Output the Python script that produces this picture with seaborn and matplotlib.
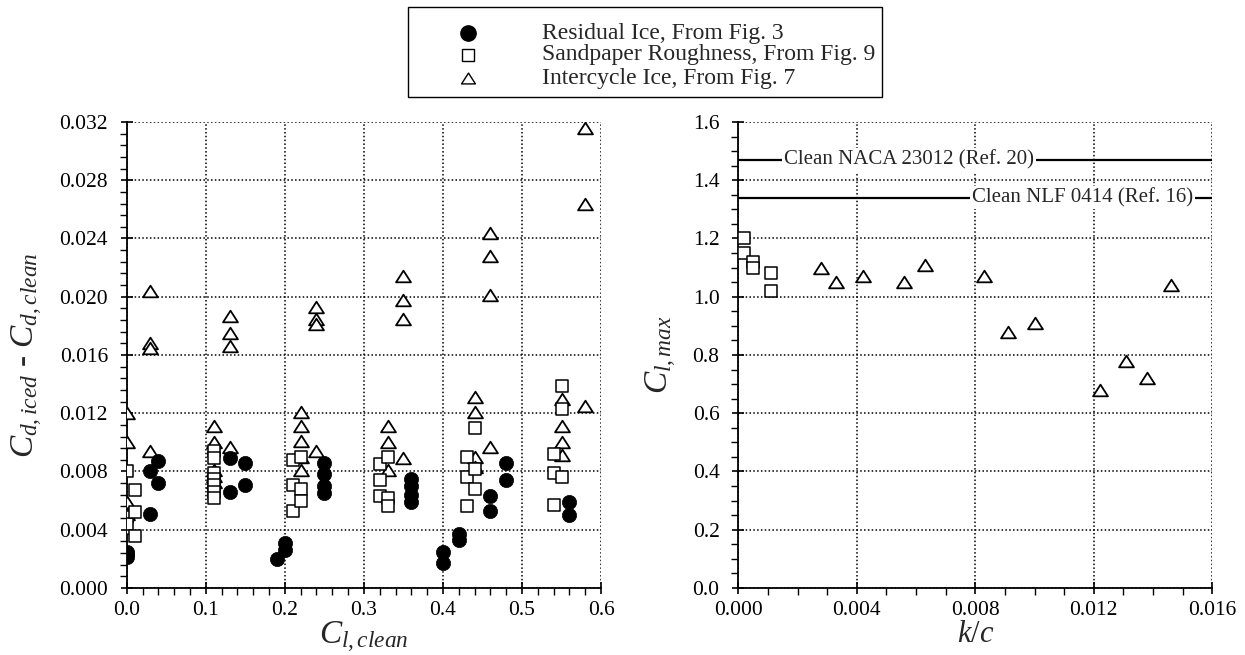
import matplotlib
matplotlib.use("Agg")
import matplotlib.pyplot as plt
from matplotlib.path import Path
from matplotlib.patches import Rectangle
from matplotlib.ticker import MultipleLocator, FormatStrFormatter
import seaborn as sns
import pandas as pd

# ---- drag increment vs clean lift coefficient ----
residual_cl = [0, 0, 0, 0.03, 0.03, 0.04, 0.04, 0.13, 0.13, 0.15, 0.15, 0.19, 0.20, 0.20,
               0.25, 0.25, 0.25, 0.25, 0.36, 0.36, 0.36, 0.36, 0.40, 0.40, 0.42, 0.42,
               0.46, 0.46, 0.48, 0.48, 0.56, 0.56]
residual_dcd = [0.0025, 0.0023, 0.0021, 0.0080, 0.0051, 0.0087, 0.0072, 0.0089, 0.0066,
                0.0086, 0.0071, 0.0020, 0.0031, 0.0026, 0.0086, 0.0078, 0.0070, 0.0065,
                0.0075, 0.0070, 0.0064, 0.0059, 0.0025, 0.0017, 0.0037, 0.0033, 0.0063,
                0.0053, 0.0086, 0.0074, 0.0059, 0.0050]

sand_cl = [0, 0, 0, 0.01, 0.01, 0.01,
           0.11, 0.11, 0.11, 0.11, 0.11, 0.11, 0.11,
           0.21, 0.21, 0.21, 0.22, 0.22, 0.22,
           0.32, 0.32, 0.32, 0.33, 0.33, 0.33,
           0.43, 0.43, 0.43, 0.44, 0.44, 0.44,
           0.54, 0.54, 0.54, 0.55, 0.55, 0.55]
sand_dcd = [0.0080, 0.0049, 0.0044, 0.0067, 0.0052, 0.0036,
            0.0094, 0.0089, 0.0079, 0.0075, 0.0071, 0.0066, 0.0062,
            0.0088, 0.0071, 0.0053, 0.0090, 0.0068, 0.0060,
            0.0085, 0.0074, 0.0063, 0.0090, 0.0062, 0.0056,
            0.0090, 0.0076, 0.0056, 0.0110, 0.0082, 0.0068,
            0.0092, 0.0079, 0.0057, 0.0139, 0.0123, 0.0076]

inter_cl = [0, 0, 0, 0, 0,
            0.03, 0.03, 0.03, 0.03,
            0.11, 0.11, 0.11, 0.11, 0.11,
            0.13, 0.13, 0.13, 0.13,
            0.22, 0.22, 0.22, 0.22, 0.22,
            0.24, 0.24, 0.24, 0.24,
            0.33, 0.33, 0.33,
            0.35, 0.35, 0.35, 0.35,
            0.44, 0.44, 0.44, 0.44,
            0.46, 0.46, 0.46, 0.46,
            0.55, 0.55, 0.55, 0.55,
            0.58, 0.58, 0.58]
inter_dcd = [0.0120, 0.0100, 0.0059, 0.0051, 0.0041,
             0.0204, 0.0168, 0.0165, 0.0094,
             0.0111, 0.0100, 0.0081, 0.0077, 0.0073,
             0.0187, 0.0175, 0.0166, 0.0097,
             0.0121, 0.0111, 0.0101, 0.0090, 0.0081,
             0.0193, 0.0185, 0.0181, 0.0094,
             0.0111, 0.0100, 0.0081,
             0.0214, 0.0198, 0.0185, 0.0089,
             0.0131, 0.0121, 0.0090, 0.0083,
             0.0244, 0.0228, 0.0201, 0.0097,
             0.0130, 0.0111, 0.0100, 0.0091,
             0.0316, 0.0264, 0.0125]

# ---- maximum lift vs roughness height ----
sand_kc = [0.0002, 0.0002, 0.0005, 0.0005, 0.0011, 0.0011]
sand_clmax = [1.20, 1.15, 1.12, 1.10, 1.08, 1.02]
inter_kc = [0.0028, 0.0033, 0.0042, 0.0056, 0.0063, 0.0083, 0.0091, 0.0100,
            0.0122, 0.0131, 0.0138, 0.0146]
inter_clmax = [1.10, 1.05, 1.07, 1.05, 1.11, 1.07, 0.88, 0.91, 0.68, 0.78, 0.72, 1.04]

clean_naca = 1.47
clean_nlf = 1.34

legend_labels = ["Residual Ice, From Fig. 3",
                 "Sandpaper Roughness, From Fig. 9",
                 "Intercycle Ice, From Fig. 7"]

sns.set_theme(style="white")
plt.rcParams["font.family"] = ["Liberation Serif", "DejaVu Serif"]
plt.rcParams["mathtext.fontset"] = "custom"
plt.rcParams["mathtext.rm"] = "Liberation Serif"
plt.rcParams["mathtext.it"] = "Liberation Serif:italic"
plt.rcParams["mathtext.bf"] = "Liberation Serif:bold"

# slightly flattened open triangle
tri = Path([(-1, -0.78), (1, -0.78), (0, 0.78), (-1, -0.78)], closed=True)

fig = plt.figure(figsize=(12.45, 6.55), dpi=100)
ax1 = fig.add_axes([0.1018, 0.1023, 0.381, 0.7115])
ax2 = fig.add_axes([0.5930, 0.1023, 0.3807, 0.7115])

df_res = pd.DataFrame({"x": residual_cl, "y": residual_dcd})
df_sand = pd.DataFrame({"x": sand_cl, "y": sand_dcd})
df_int = pd.DataFrame({"x": inter_cl, "y": inter_dcd})

sns.scatterplot(data=df_int, x="x", y="y", ax=ax1, marker=tri, s=115,
                facecolor="white", edgecolor="black", linewidth=1.3, zorder=3)
sns.scatterplot(data=df_sand, x="x", y="y", ax=ax1, marker="s", s=72,
                facecolor="white", edgecolor="black", linewidth=1.1, zorder=4)
sns.scatterplot(data=df_res, x="x", y="y", ax=ax1, marker="o", s=105,
                color="black", edgecolor="black", linewidth=0.5, zorder=5)

df_sand2 = pd.DataFrame({"x": sand_kc, "y": sand_clmax})
df_int2 = pd.DataFrame({"x": inter_kc, "y": inter_clmax})
sns.scatterplot(data=df_sand2, x="x", y="y", ax=ax2, marker="s", s=72,
                facecolor="white", edgecolor="black", linewidth=1.1, zorder=4)
sns.scatterplot(data=df_int2, x="x", y="y", ax=ax2, marker=tri, s=115,
                facecolor="white", edgecolor="black", linewidth=1.3, zorder=3)

# clean-airfoil reference lines with labels cut into them
ax2.axhline(clean_naca, color="black", lw=1.6, zorder=2)
ax2.axhline(clean_nlf, color="black", lw=1.6, zorder=2)
ax2.text(0.00576, clean_naca, "Clean NACA 23012 (Ref. 20)", fontsize=15,
         ha="center", va="center", zorder=3,
         bbox=dict(facecolor="white", edgecolor="none", pad=1.5))
ax2.text(0.01162, clean_nlf, "Clean NLF 0414 (Ref. 16)", fontsize=15,
         ha="center", va="center", zorder=3,
         bbox=dict(facecolor="white", edgecolor="none", pad=1.5))

ax1.set_xlim(0, 0.6)
ax1.set_ylim(0, 0.032)
ax1.xaxis.set_major_locator(MultipleLocator(0.1))
ax1.xaxis.set_minor_locator(MultipleLocator(0.02))
ax1.yaxis.set_major_locator(MultipleLocator(0.004))
ax1.yaxis.set_minor_locator(MultipleLocator(0.0008))
ax1.xaxis.set_major_formatter(FormatStrFormatter("%.1f"))
ax1.yaxis.set_major_formatter(FormatStrFormatter("%.3f"))

ax2.set_xlim(0, 0.016)
ax2.set_ylim(0, 1.6)
ax2.xaxis.set_major_locator(MultipleLocator(0.004))
ax2.xaxis.set_minor_locator(MultipleLocator(0.001))
ax2.yaxis.set_major_locator(MultipleLocator(0.2))
ax2.yaxis.set_minor_locator(MultipleLocator(0.05))
ax2.xaxis.set_major_formatter(FormatStrFormatter("%.3f"))
ax2.yaxis.set_major_formatter(FormatStrFormatter("%.1f"))

for ax in (ax1, ax2):
    for side in ("top", "right"):
        ax.spines[side].set_visible(False)
    for side in ("left", "bottom"):
        ax.spines[side].set_color("black")
        ax.spines[side].set_linewidth(1.3)
    ax.grid(True, which="major", color="black", linestyle=(0, (1, 1.5)), linewidth=1.1)
    ax.set_axisbelow(True)
    ax.tick_params(which="major", direction="inout", length=9, width=1.2,
                   colors="black", labelsize=15.5, bottom=True, left=True)
    ax.tick_params(axis="y", which="major", pad=9)
    ax.tick_params(axis="x", which="major", pad=5)
    ax.tick_params(which="minor", direction="out", length=5, width=1.0,
                   colors="black", bottom=True, left=True)

ax1.set_xlabel(r"$C_{l,clean}$", fontsize=24, labelpad=0)
ax1.set_ylabel(r"$C_{d,iced}$ - $C_{d,clean}$", fontsize=24, labelpad=10)
ax2.set_xlabel(r"$k/c$", fontsize=22, labelpad=0)
ax2.set_ylabel(r"$C_{l,max}$", fontsize=24, labelpad=10)

# boxed key above the panels
axl = fig.add_axes([408 / 1245, 1 - 97 / 655, 474 / 1245, 90 / 655])
axl.set_xlim(0, 1)
axl.set_ylim(0, 1)
axl.axis("off")
axl.add_patch(Rectangle((0, 0), 1, 1, transform=axl.transAxes, fill=False,
                        edgecolor="black", linewidth=1.0, clip_on=False))
key_y = [0.711, 0.467, 0.211]
key_style = [
    dict(marker="o", markersize=11, markerfacecolor="black", markeredgecolor="black"),
    dict(marker="s", markersize=8.5, markerfacecolor="white", markeredgecolor="black",
         markeredgewidth=1.0),
    dict(marker=tri, markersize=10, markerfacecolor="white", markeredgecolor="black",
         markeredgewidth=1.0),
]
for yk, lab, st in zip(key_y, legend_labels, key_style):
    axl.plot([0.1266], [yk], linestyle="none", **st)
    axl.text(0.2827, yk, lab, fontsize=17, ha="left", va="center")

fig.savefig("out.png", dpi=100, facecolor="white")
